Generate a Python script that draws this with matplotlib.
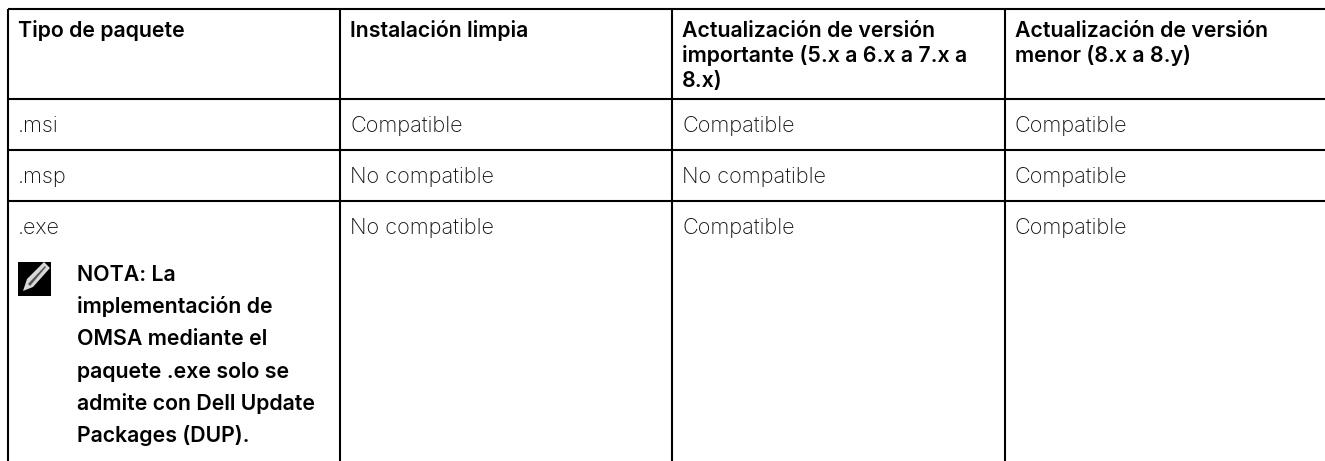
import matplotlib
matplotlib.use("Agg")
import matplotlib.pyplot as plt
from matplotlib.patches import Polygon, Rectangle

W, H = 1325, 461
FONT = "Inter"
SIZE = 15.6
BOLD_SIZE = 15.35

col_lines = [8, 340, 672, 1005]
row_lines = [9, 99, 150, 201]
bottom = 461

headers = [
    ["Tipo de paquete"],
    ["Instalación limpia"],
    ["Actualización de versión", "importante (5.x a 6.x a 7.x a", "8.x)"],
    ["Actualización de versión", "menor (8.x a 8.y)"],
]
rows = [
    [".msi", "Compatible", "Compatible", "Compatible"],
    [".msp", "No compatible", "No compatible", "Compatible"],
    [".exe", "No compatible", "Compatible", "Compatible"],
]
note_lines = [
    "NOTA: La",
    "implementación de",
    "OMSA mediante el",
    "paquete .exe solo se",
    "admite con Dell Update",
    "Packages (DUP).",
]

fig = plt.figure(figsize=(W / 100, H / 100), dpi=100)
ax = fig.add_axes([0, 0, 1, 1])
ax.set_xlim(0, W)
ax.set_ylim(H, 0)
ax.axis("off")

# grid
for x in col_lines:
    ax.plot([x, x], [row_lines[0], bottom], color="black", lw=1.5, solid_capstyle="butt")
for y in row_lines:
    ax.plot([col_lines[0], W], [y, y], color="black", lw=1.5, solid_capstyle="butt")

# header
for x, lines in zip(col_lines, headers):
    for i, txt in enumerate(lines):
        ax.text(x + 10, 37 + i * 25, txt, fontsize=BOLD_SIZE, fontfamily=FONT, fontweight="semibold",
                color="black", va="baseline", ha="left")

# body
for r, row in enumerate(rows):
    for x, txt in zip(col_lines, row):
        ax.text(x + 10, row_lines[r + 1] + 33, txt, fontsize=SIZE, fontfamily=FONT,
                fontweight="light", color="#111111", va="baseline", ha="left")

# note icon
ax.add_patch(Rectangle((18, 262), 33, 34, color="black", lw=0))
ax.add_patch(Polygon([[23, 291], [27, 279], [44, 262], [50, 268], [33, 287]],
                     closed=True, color="#d8d8d8", lw=0))
ax.add_patch(Polygon([[28, 284], [45, 266], [46, 267], [30, 286]],
                     closed=True, color="#555555", lw=0))

# note
for i, line in enumerate(note_lines):
    ax.text(77, 281 + i * 32.2, line, fontsize=BOLD_SIZE, fontfamily=FONT, fontweight="semibold",
            color="black", va="baseline", ha="left")

fig.savefig("out.png", dpi=100)
